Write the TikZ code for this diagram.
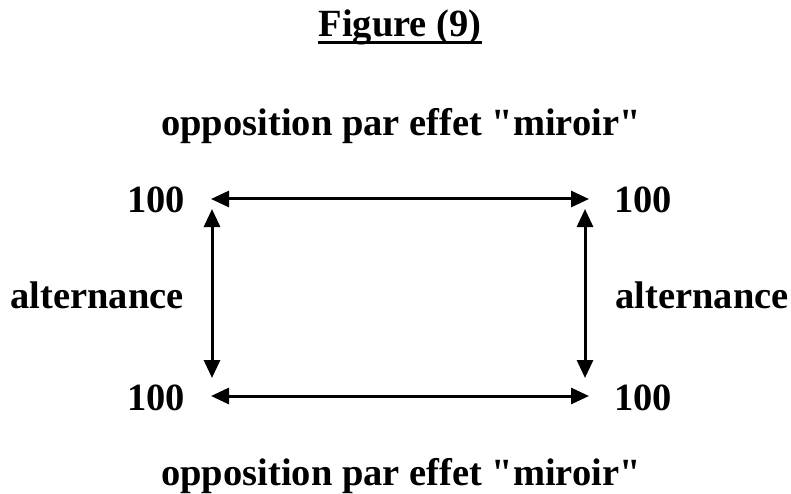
\documentclass[tikz,border=0pt]{standalone}
\usepackage{fontspec}
\setmainfont{Liberation Serif}[Ligatures=TeXOff]
\usetikzlibrary{arrows.meta}
\begin{document}
\begin{tikzpicture}[x=1pt,y=-1pt,
  lbl/.style={font=\fontsize{38.5}{42}\selectfont\bfseries, inner sep=0pt, anchor=base},
  dbl/.style={line width=3pt, {Triangle[length=18pt,width=16pt]}-{Triangle[length=18pt,width=16pt]}}]
\useasboundingbox (0,0) rectangle (791,494);
\node[lbl] (title) at (400,37) {Figure (9)};
\draw[line width=3.5pt] ([yshift=-5.5pt]title.base west) -- ([yshift=-5.5pt]title.base east);
\node[lbl] (optop) at (401,136) {opposition par effet "miroir"};
\node[lbl] (opbot) at (401,485) {opposition par effet "miroir"};
\node[lbl] (n1) at (156,212) {100};
\node[lbl] (n2) at (643,212) {100};
\node[lbl] (n3) at (156,410) {100};
\node[lbl] (n4) at (643,410) {100};
\node[lbl] (altl) at (97,308) {alternance};
\node[lbl] (altr) at (702,308) {alternance};
\coordinate (ht1) at (211,199);
\coordinate (ht2) at (589,199);
\coordinate (hb1) at (211,396);
\coordinate (hb2) at (589,396);
\coordinate (vl1) at (212,209);
\coordinate (vl2) at (212,378);
\coordinate (vr1) at (585,209);
\coordinate (vr2) at (585,378);
\draw[dbl] (ht1) -- (ht2);
\draw[dbl] (hb1) -- (hb2);
\draw[dbl] (vl1) -- (vl2);
\draw[dbl] (vr1) -- (vr2);
\end{tikzpicture}
\end{document}
